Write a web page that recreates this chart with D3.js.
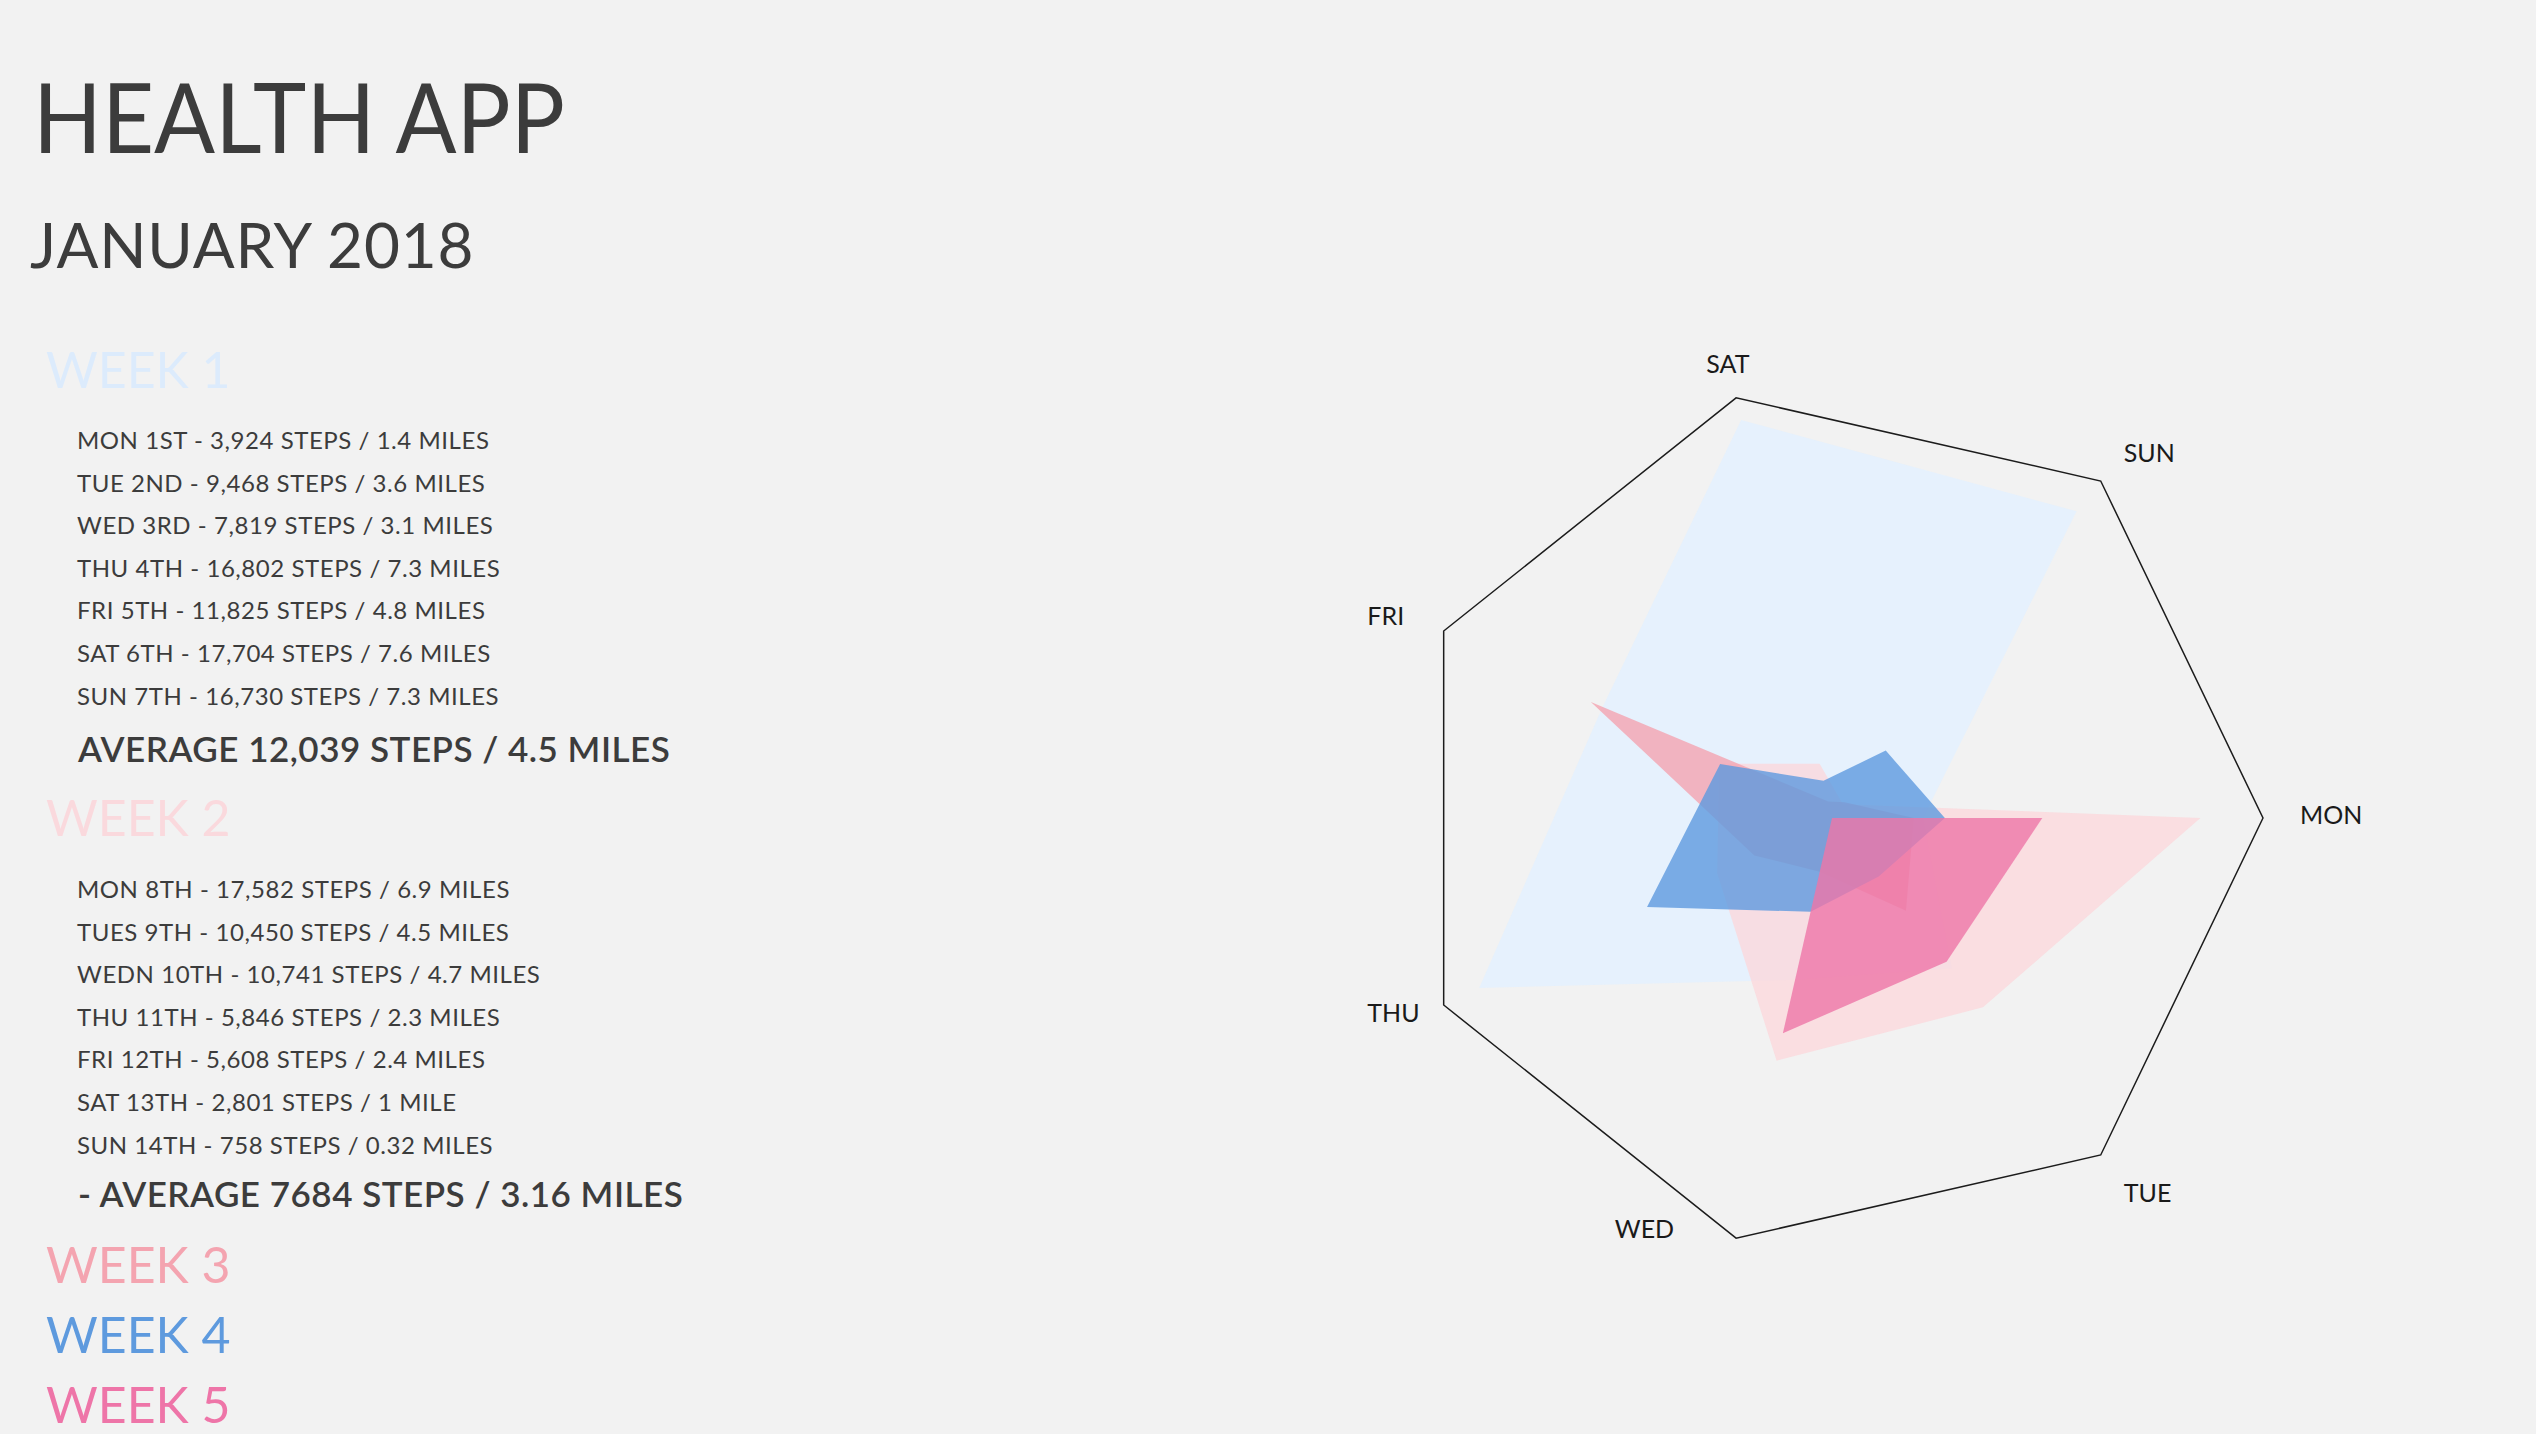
<!DOCTYPE html>
<html>
<head>
<meta charset="utf-8">
<script src="https://cdn.jsdelivr.net/npm/d3@7"></script>
<style>
  html, body { margin: 0; padding: 0; background: #f2f2f2; }
  svg { display: block; font-family: "Lato", "Noto Sans", sans-serif; }
</style>
</head>
<body>
<svg id="chart"></svg>
<script>
// days go round the radar clockwise starting at 3 o'clock
var days = ["MON", "TUE", "WED", "THU", "FRI", "SAT", "SUN"];
var weekNames = ["WEEK 1", "WEEK 2", "WEEK 3", "WEEK 4", "WEEK 5"];
var weekColors = ["#dcebfc", "#fad9dd", "#f4a4b0", "#5e9ade", "#ee75a8"];
var polyColors = ["#e2f0ff", "#fbd8dc", "#f4a4b0", "#5e9ade", "#ee75a8"];

// steps per day (MON..SUN)
var week1Steps = [3924, 8300, 7160, 16900, 11000, 17620, 16930];
var week2Steps = [15900, 10450, 10741, 5500, 5400, 2400, 758];
var week3Steps = [3530, 5120, 2380, 3720, 11550, 730, 870];
var week4Steps = [4870, 3230, 4150, 8860, 5360, 1650, 3720];
var week5Steps = [9075, 7930, 9530, 0, 0, 0, 0];
var maxSteps = 18600;

var week1Lines = [
	"MON 1ST - 3,924 STEPS / 1.4 MILES",
	"TUE 2ND - 9,468 STEPS / 3.6 MILES",
	"WED 3RD - 7,819 STEPS / 3.1 MILES",
	"THU 4TH - 16,802 STEPS / 7.3 MILES",
	"FRI 5TH - 11,825 STEPS / 4.8 MILES",
	"SAT 6TH - 17,704 STEPS / 7.6 MILES",
	"SUN 7TH - 16,730 STEPS / 7.3 MILES"
];
var week2Lines = [
	"MON 8TH - 17,582 STEPS / 6.9 MILES",
	"TUES 9TH - 10,450 STEPS / 4.5 MILES",
	"WEDN 10TH - 10,741 STEPS / 4.7 MILES",
	"THU 11TH - 5,846 STEPS / 2.3 MILES",
	"FRI 12TH - 5,608 STEPS / 2.4 MILES",
	"SAT 13TH - 2,801 STEPS / 1 MILE",
	"SUN 14TH - 758 STEPS / 0.32 MILES"
];
var averages = ["AVERAGE 12,039 STEPS / 4.5 MILES", "- AVERAGE 7684 STEPS / 3.16 MILES"];

var width = 2536, height = 1434;
var svg = d3.select("#chart").attr("width", width).attr("height", height);
svg.append("rect").attr("width", width).attr("height", height).attr("fill", "#f2f2f2");

var ink = "#3c3c3c";

// --- LEFT TEXT --- \\
var side = svg.append("g");
side.append("text").attr("x", 33).attr("y", 153)
	.attr("font-size", 97).attr("textLength", 532).attr("lengthAdjust", "spacingAndGlyphs")
	.attr("fill", ink).text("HEALTH APP");
side.append("text").attr("x", 30).attr("y", 268)
	.attr("font-size", 62).attr("letter-spacing", 0.8).attr("fill", ink).text("JANUARY 2018");

function header(i, y) {
	side.append("text").attr("x", 46).attr("y", y)
		.attr("font-size", 50).attr("fill", weekColors[i]).text(weekNames[i]);
}
function dayList(lines, y0) {
	side.selectAll(null).data(lines).enter().append("text")
		.attr("x", 77).attr("y", function(d, i) { return y0 + i * 42.6; })
		.attr("font-size", 24).attr("letter-spacing", 0.55)
		.attr("fill", ink).text(function(d) { return d; });
}
function average(txt, y) {
	side.append("text").attr("x", 78).attr("y", y)
		.attr("font-size", 35).attr("font-weight", 600).attr("letter-spacing", 0.5)
		.attr("fill", ink).text(txt);
}

header(0, 388);
dayList(week1Lines, 449);
average(averages[0], 762);
header(1, 836);
dayList(week2Lines, 898);
average(averages[1], 1207);
header(2, 1283);
header(3, 1353);
header(4, 1423);

// --- RADAR --- \\
var cx = 1832, cy = 818, R = 431;
var radar = svg.append("g").attr("transform", "translate(" + cx + "," + cy + ")");

var r = d3.scaleLinear().domain([0, maxSteps]).range([0, R]);
// lineRadial angles start at 12 o'clock, MON sits at 3 o'clock
var angle = d3.scaleLinear().domain([0, days.length]).range([Math.PI / 2, Math.PI / 2 + 2 * Math.PI]);

var radial = d3.lineRadial()
	.angle(function(d, i) { return angle(i); })
	.radius(function(d) { return r(d); })
	.curve(d3.curveLinearClosed);

radar.append("path")
	.attr("d", radial(days.map(function() { return maxSteps; })))
	.attr("fill", "none").attr("stroke", "#1c1c1c").attr("stroke-width", 1.5);

var weeks = [week1Steps, week2Steps, week3Steps, week4Steps, week5Steps];
radar.selectAll(".week").data(weeks).enter().append("path")
	.attr("class", "week")
	.attr("d", function(d) { return radial(d); })
	.attr("fill", function(d, i) { return polyColors[i]; })
	.attr("fill-opacity", 0.8);

function labelPos(i) {
	var a = angle(i) - Math.PI / 2, c = Math.cos(a), s = Math.sin(a);
	var lr = R + 37;
	if (Math.abs(c) < 0.3) {
		if (s < 0) return { x: lr * c, y: lr * s + 11, anchor: "middle" };
		// bottom label sits left of its corner
		return { x: R * c - 62, y: R * s, anchor: "end" };
	}
	// small nudges per side so labels clear the outline like the original
	var nudge = s < -0.1 ? 5 : (s > 0.1 ? (c > 0 ? 11 : -6) : 0);
	// left-hand labels share one start line
	return { x: c > 0 ? lr * c : lr * c - 43, y: 470 * s + 6 + nudge, anchor: "start" };
}

radar.selectAll(".axis-label").data(days).enter().append("text")
	.attr("class", "axis-label")
	.attr("x", function(d, i) { return labelPos(i).x; })
	.attr("y", function(d, i) { return labelPos(i).y; })
	.attr("text-anchor", function(d, i) { return labelPos(i).anchor; })
	.attr("font-size", 25).attr("fill", "#1a1a1a")
	.text(function(d) { return d; });
</script>
</body>
</html>
